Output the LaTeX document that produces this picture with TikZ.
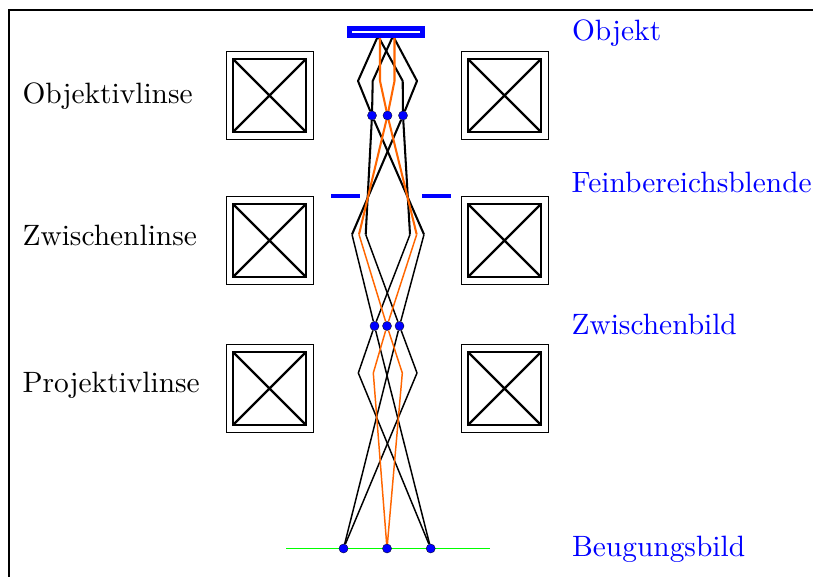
\documentclass[tikz,border=0pt]{standalone}
\usepackage{tikz}
\pgfdeclarelayer{edgelayer}
\pgfdeclarelayer{nodelayer}
\pgfsetlayers{edgelayer,nodelayer,main}
\definecolor{rayorange}{RGB}{255,102,0}
\tikzstyle{lens_outer}=[rectangle,draw=black,line width=0.32pt,minimum size=29.6pt,inner sep=0pt]
\tikzstyle{lens_inner}=[rectangle,draw=black,line width=0.8pt,minimum size=24.8pt,inner sep=0pt,path picture={\draw [line width=0.8pt] (path picture bounding box.north west) -- (path picture bounding box.south east) (path picture bounding box.north east) -- (path picture bounding box.south west);}]
\tikzstyle{focus_dot}=[circle,fill=blue,draw=black,line width=0.1pt,minimum size=3.1pt,inner sep=0pt]
\tikzstyle{specimen}=[rectangle,draw=blue,fill=white,line width=1.4pt,minimum width=24.8pt,minimum height=2.4pt,inner sep=0pt]
\tikzstyle{black_label}=[anchor=base west,inner sep=0pt,text=black]
\tikzstyle{blue_label}=[anchor=base west,inner sep=0pt,text=blue]
\tikzstyle{ray_upper}=[draw=black,line width=0.7pt,line join=round]
\tikzstyle{ray_lower}=[draw=black,line width=0.5pt,line join=round]
\tikzstyle{aperture}=[draw=blue,line width=1.2pt]
\tikzstyle{screen}=[draw=green,line width=0.5pt]

\begin{document}
\begin{tikzpicture}[x=0.34pt,y=-0.34pt]
	\useasboundingbox (0, 0) rectangle (813, 577);
	\begin{pgfonlayer}{nodelayer}
		\node [style={specimen}] (0) at (386, 32) {};
		\node [style={lens_outer}] (1) at (269.5, 95.5) {};
		\node [style={lens_inner}] (2) at (269.5, 95.5) {};
		\node [style={lens_outer}] (3) at (504.5, 95.5) {};
		\node [style={lens_inner}] (4) at (504.5, 95.5) {};
		\node [style={lens_outer}] (5) at (269.5, 240.5) {};
		\node [style={lens_inner}] (6) at (269.5, 240.5) {};
		\node [style={lens_outer}] (7) at (504.5, 240.5) {};
		\node [style={lens_inner}] (8) at (504.5, 240.5) {};
		\node [style={lens_outer}] (9) at (269.5, 388.5) {};
		\node [style={lens_inner}] (10) at (269.5, 388.5) {};
		\node [style={lens_outer}] (11) at (504.5, 388.5) {};
		\node [style={lens_inner}] (12) at (504.5, 388.5) {};
		\node [style={focus_dot}] (13) at (372, 115.5) {};
		\node [style={focus_dot}] (14) at (387.5, 115.5) {};
		\node [style={focus_dot}] (15) at (403, 115.5) {};
		\node [style={focus_dot}] (16) at (374.5, 326) {};
		\node [style={focus_dot}] (17) at (387, 326) {};
		\node [style={focus_dot}] (18) at (399.5, 326) {};
		\node [style={focus_dot}] (19) at (343.5, 548.5) {};
		\node [style={focus_dot}] (20) at (387, 548.5) {};
		\node [style={focus_dot}] (21) at (430.7, 548.5) {};
		\node [style={black_label}] (22) at (22, 104) {Objektivlinse};
		\node [style={black_label}] (23) at (22, 246) {Zwischenlinse};
		\node [style={black_label}] (24) at (22, 393) {Projektivlinse};
		\node [style={blue_label}] (25) at (571.5, 41) {Objekt};
		\node [style={blue_label}] (26) at (571, 193) {Feinbereichsblende};
		\node [style={blue_label}] (27) at (571, 335) {Zwischenbild};
		\node [style={blue_label}] (28) at (571.5, 556) {Beugungsbild};
	\end{pgfonlayer}
	\begin{pgfonlayer}{edgelayer}
		\coordinate (a) at (378, 36);
		\coordinate (b) at (393, 36);
		\coordinate (c) at (380, 36);
		\coordinate (d) at (394.5, 36);
		\coordinate (e1) at (358, 81);
		\coordinate (e2) at (372.7, 81);
		\coordinate (e3) at (380, 81);
		\coordinate (e4) at (394.5, 81);
		\coordinate (e5) at (402.7, 81);
		\coordinate (e6) at (417, 81);
		\coordinate (f1) at (352, 234.5);
		\coordinate (f2) at (359, 234.5);
		\coordinate (f3) at (365.7, 234.5);
		\coordinate (f4) at (410, 234.5);
		\coordinate (f5) at (416.7, 234.5);
		\coordinate (f6) at (424, 234.5);
		\coordinate (g1) at (358.3, 373);
		\coordinate (g2) at (373.3, 373);
		\coordinate (g3) at (402.3, 373);
		\coordinate (g4) at (417, 373);
		\coordinate (h1) at (9, 577);
		\coordinate (h2) at (9, 10);
		\coordinate (h3) at (813, 10);
		\coordinate (i1) at (331, 196);
		\coordinate (i2) at (360, 196);
		\coordinate (i3) at (422, 196);
		\coordinate (i4) at (451, 196);
		\coordinate (j1) at (286, 548.5);
		\coordinate (j2) at (490, 548.5);
		\draw [line width=0.36pt] (h1) -- (h2) -- (h3);
		\draw [style=aperture] (i1) -- (i2);
		\draw [style=aperture] (i3) -- (i4);
		\draw [style=screen] (j1) -- (j2);
		\draw [style=ray_upper] (a) -- (e1) -- (13) -- (f6);
		\draw [style=ray_upper] (a) -- (e5) -- (15) -- (f4);
		\draw [style=ray_upper] (b) -- (e2) -- (13) -- (f3);
		\draw [style=ray_upper] (b) -- (e6) -- (15) -- (f1);
		\draw [style=ray_upper, draw=rayorange] (c) -- (e3) -- (14) -- (f5);
		\draw [style=ray_upper, draw=rayorange] (d) -- (e4) -- (14) -- (f2);
		\draw [style=ray_lower] (f1) -- (16) -- (21);
		\draw [style=ray_lower] (f6) -- (18) -- (19);
		\draw [style=ray_lower] (f4) -- (16) -- (g1) -- (21);
		\draw [style=ray_lower] (f3) -- (18) -- (g4) -- (19);
		\draw [style=ray_lower, draw=rayorange] (f2) -- (17) -- (g3) -- (20);
		\draw [style=ray_lower, draw=rayorange] (f5) -- (17) -- (g2) -- (20);
	\end{pgfonlayer}
\end{tikzpicture}
\end{document}
